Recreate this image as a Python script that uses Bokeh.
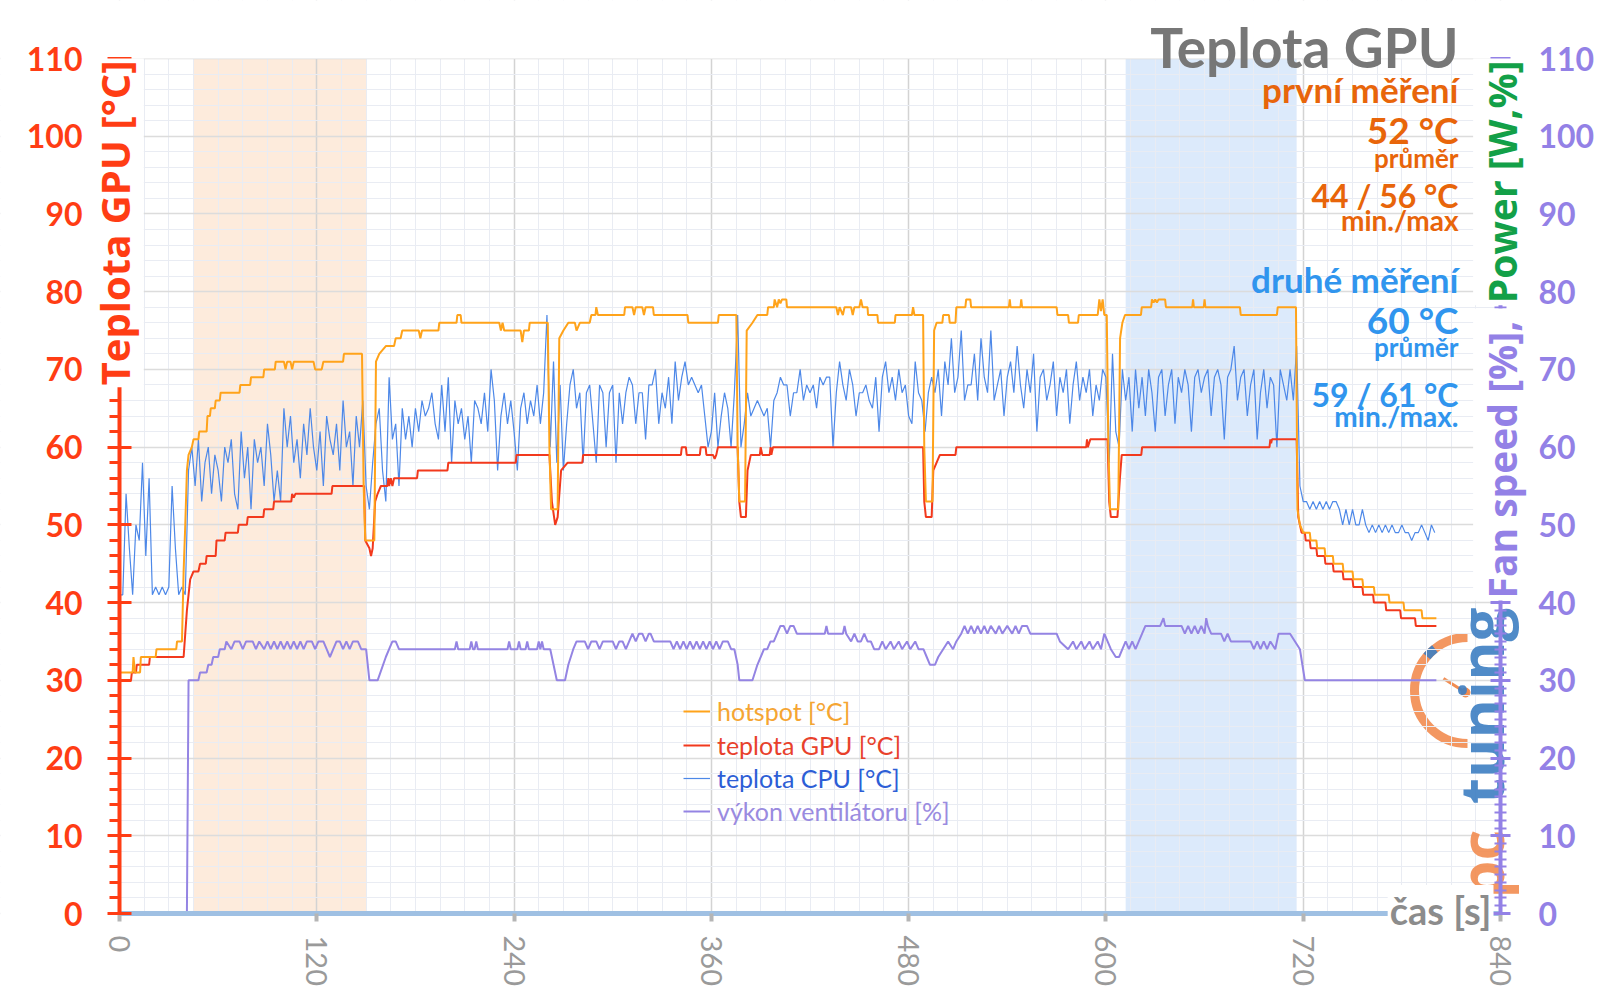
import math
from bokeh.plotting import figure
from bokeh.models import (Range1d, LinearAxis, FixedTicker, BoxAnnotation, Label,
                          Legend, LegendItem)
from bokeh.embed import file_html
from bokeh.resources import INLINE

# ---------------- data ----------------
x_ticks = [0, 120, 240, 360, 480, 600, 720, 840]
y_ticks = [0, 10, 20, 30, 40, 50, 60, 70, 80, 90, 100, 110]

first_span = (45, 150)     # "první měření" window [s]
second_span = (612, 716)   # "druhé měření" window [s]

hotspot_pts = [
    (0, 31), (8, 31), (8.5, 33), (9.5, 31), (12.5, 31), (13, 33), (22, 33), (22.5, 34), (34.5, 34),
    (35, 35), (38, 35), (39, 44), (40, 50), (41, 57), (42, 59), (44, 60), (45, 61), (48, 61), (48.5, 62),
    (53, 62), (53.5, 64), (55, 64), (55.5, 65), (58, 65), (58.5, 66), (61, 66), (61.5, 67), (73, 67),
    (73.5, 68), (79.5, 68), (80, 69), (87.5, 69), (88, 70), (94.5, 70), (95, 71), (100, 71), (101, 70),
    (102, 71), (104, 71), (105, 70), (106, 71), (118, 71), (119, 70), (123, 70), (124, 71), (136, 71),
    (136.5, 72), (147.5, 72), (148.5, 55), (149.5, 48), (155, 48), (156, 71), (158, 72), (162, 73),
    (167, 73), (168, 74), (171, 74), (172, 75), (182, 75), (183, 74), (184, 75), (194, 75), (194.5, 76),
    (205, 76), (205.5, 77), (207.5, 77), (208, 76), (231, 76), (232, 75), (233, 76), (234, 75), (244, 75),
    (245, 73.5), (246, 75), (249, 75), (249.5, 76), (260.5, 76), (261.5, 60), (262.5, 52), (266.5, 52),
    (267.5, 74), (270, 75), (273, 76), (277, 76), (278, 75), (280, 76), (286, 76), (287, 77), (289.5, 77),
    (290, 78), (291, 77), (307, 77), (307.5, 78), (312, 78), (313, 77), (314, 78), (318, 78), (319, 77),
    (320, 78), (324.5, 78), (325, 77), (345.5, 77), (346, 76), (364, 76), (364.5, 77), (375.2, 77),
    (376, 60), (377, 53), (380.5, 53), (381.5, 75), (385, 76), (388, 77), (394, 77), (394.5, 78), (398, 78),
    (398.5, 79), (400, 78), (401, 79), (402, 78.5), (403, 79), (405.6, 79), (406, 78), (436, 78), (437, 77),
    (438, 78), (440, 77), (441, 78), (445, 78), (446, 77), (447, 78), (450, 78), (451, 79), (452, 78),
    (455, 78), (455.3, 77), (461, 77), (461.4, 76), (471.6, 76), (472, 77), (482, 77), (482.7, 78),
    (483.5, 77), (488.8, 77), (489.5, 60), (490.5, 53), (494.5, 53), (495.5, 75), (497, 76), (500.5, 76),
    (501, 77), (504.5, 77), (505, 76), (508.5, 76), (509, 78), (514.5, 78), (515, 79), (517.5, 79),
    (518, 78), (541, 78), (541.5, 79), (542, 78), (548, 78), (548.5, 79), (549, 78), (570, 78), (570.5, 77),
    (577, 77), (577.5, 76), (583, 76), (583.5, 77), (595, 77), (596, 79), (597, 77.5), (598, 79), (599, 77),
    (600.5, 77), (601.5, 60), (602.5, 52), (607.5, 52), (608.6, 74), (610, 76), (611.6, 77), (621.3, 77),
    (621.8, 78), (627.5, 78), (628, 79), (629, 78.6), (630, 79), (631, 78.6), (632, 79), (636, 79),
    (636.5, 78), (652.5, 78), (653, 79), (653.5, 78), (659.5, 78), (660, 79), (660.5, 78), (681.5, 78),
    (682, 77), (704, 77), (704.5, 78), (715.6, 78), (716.5, 52), (718, 50), (720, 49), (724, 49),
    (724.5, 48), (728, 48), (728.5, 47), (733, 47), (733.5, 46), (738, 46), (738.5, 45), (744, 45),
    (744.5, 44), (750, 44), (750.5, 43), (756, 43), (756.5, 42), (763, 42), (763.5, 41), (772, 41),
    (772.5, 40), (781, 40), (781.5, 39), (792, 39), (792.5, 38), (801, 38),
]

gpu_pts = [
    (0, 30), (7, 30), (7.5, 31), (10, 31), (10.5, 32), (18, 32), (18.5, 33), (39, 33), (40, 36), (41, 39),
    (42, 41), (43, 43), (45, 44), (48, 44), (49, 45), (52.5, 45), (53, 46), (58.5, 46), (59, 48), (64, 48),
    (64.5, 49), (72, 49), (72.5, 50), (77.5, 50), (78, 51), (87.5, 51), (88, 52), (93.5, 52), (94, 53),
    (104.5, 53), (105, 54), (106, 53.5), (107, 54), (129, 54), (129.5, 55), (148.8, 55), (149.5, 48),
    (152, 47), (153, 46), (154, 47), (155.5, 53), (157, 54), (159, 55), (163, 55), (163.5, 56), (164, 55),
    (165, 56), (166, 55), (167, 56), (181, 56), (181.5, 57), (199.5, 57), (200, 58), (241, 58), (241.5, 59),
    (261.5, 59), (263, 53), (265, 50), (266.5, 51), (268.6, 57), (272.6, 58), (281.5, 58), (282, 59),
    (341.5, 59), (342, 60), (344.5, 60), (345, 59), (353, 59), (353.5, 60), (356.5, 60), (357, 59),
    (361, 59), (362, 58.5), (363, 59), (364, 60), (376, 60), (377, 53), (378, 51), (381, 51), (382, 57),
    (384, 59), (389.5, 59), (390, 60), (391, 59), (395.5, 59), (396, 60), (396.5, 59), (397.5, 60),
    (488.8, 60), (489.5, 53), (490.5, 51), (494, 51), (495, 57), (499, 59), (508.5, 59), (509, 60),
    (588, 60), (588.5, 61), (589, 60), (590.5, 61), (601, 61), (602, 53), (603, 51), (607, 51),
    (608.5, 56), (609.6, 59), (621.5, 59), (622, 60), (699.5, 60), (700, 61), (700.5, 60.5), (701, 61),
    (716, 61), (717, 51), (719, 49), (721, 49), (721.5, 48), (724, 48), (724.5, 47), (728, 47),
    (728.5, 46), (733, 46), (733.5, 45), (738, 45), (738.5, 44), (744, 44), (744.5, 43), (750, 43),
    (750.5, 42), (756, 42), (756.5, 41), (762.5, 41), (763, 40), (770, 40), (770.5, 39), (779, 39),
    (779.5, 38), (788, 38), (788.5, 37), (801, 37),
]

fan_pts = [
    (0, 0), (41, 0), (42, 30), (48, 30), (49, 31), (53, 31), (54, 32), (56, 32), (57, 33), (60, 33),
    (61, 34), (64, 34), (65, 35), (68, 34), (70, 35), (73, 35), (75, 34), (77, 35), (81, 35), (83, 34),
    (85, 35), (88, 34), (90, 35), (92, 34), (94, 35), (96, 34), (98, 35), (100, 34), (102, 35), (104, 34),
    (106, 35), (108, 34), (110, 35), (112, 34), (114, 35), (117, 35), (119, 34), (121, 35), (124, 35),
    (126, 34), (128, 33), (130, 34), (132, 35), (134, 35), (136, 34), (138, 35), (140, 34), (142, 35),
    (145, 35), (147, 34), (150, 34), (152, 30), (157, 30), (162, 33), (164, 34), (166, 35), (168, 35),
    (170, 34), (204, 34), (205, 35), (206, 34), (213, 34), (214, 35), (215, 34), (216, 34), (217, 35),
    (218, 34), (236, 34), (237, 35), (238, 34), (242, 34), (243, 35), (244, 34), (247, 34), (248, 35),
    (249, 34), (254, 34), (255, 35), (256, 34), (257, 35), (258, 34), (262, 34), (264, 32), (266, 30),
    (271, 30), (273, 32), (276, 34), (278, 35), (283, 35), (285, 34), (287, 35), (290, 35), (292, 34),
    (294, 35), (300, 35), (302, 34), (304, 35), (306, 35), (308, 34), (310, 35), (312, 36), (314, 35),
    (316, 36), (318, 36), (320, 35), (322, 36), (323, 36), (325, 35), (335, 35), (337, 34), (339, 35),
    (341, 34), (343, 35), (345, 34), (347, 35), (349, 34), (351, 35), (353, 34), (355, 35), (357, 34),
    (359, 35), (361, 34), (363, 35), (365, 34), (367, 35), (370, 35), (372, 34), (374, 34), (376, 32),
    (377, 30), (385, 30), (388, 32), (392, 34), (394, 34), (396, 35), (398, 35), (400, 36), (402, 37),
    (404, 37), (406, 36), (408, 37), (410, 37), (412, 36), (429, 36), (430, 37), (431, 36), (440, 36),
    (441, 37), (442, 36), (445, 35), (447, 36), (449, 35), (451, 35), (453, 36), (455, 35), (457, 35),
    (459, 34), (462, 34), (464, 35), (466, 34), (469, 35), (471, 34), (474, 35), (476, 34), (479, 35),
    (481, 34), (484, 35), (486, 34), (489, 34), (491, 33), (493, 32), (496, 32), (498, 33), (501, 34),
    (504, 35), (507, 34), (509, 35), (512, 36), (514, 37), (516, 36), (518, 37), (520, 36), (522, 37),
    (524, 36), (526, 37), (528, 36), (530, 37), (533, 36), (535, 37), (537, 36), (540, 37), (543, 36),
    (545, 37), (547, 36), (549, 37), (552, 37), (554, 36), (570, 36), (572, 35), (577, 34), (580, 35),
    (582, 34), (585, 35), (587, 34), (590, 35), (592, 34), (595, 35), (597, 34), (599, 36), (601, 35),
    (603, 34), (606, 33), (608, 33), (610, 34), (612, 35), (614, 34), (616, 35), (618, 34), (620, 35),
    (622, 36), (624, 37), (633, 37), (635, 38), (636, 37), (646, 37), (648, 36), (650, 37), (652, 36),
    (654, 37), (656, 36), (658, 37), (660, 36), (661, 38), (662, 37), (664, 36), (670, 36), (672, 35),
    (674, 36), (676, 35), (688, 35), (690, 34), (692, 35), (694, 34), (696, 35), (698, 34), (700, 35),
    (703, 34), (705, 36), (712, 36), (715, 35), (718, 34), (721, 30), (801, 30),
]

# CPU temperature sampled every 2 s from 0 s to 800 s
cpu_values = [
    41, 41, 54, 47, 41, 50, 48, 58, 46, 56, 41, 42, 41, 42, 41, 42, 55, 47, 41, 42, 41,
    57, 60, 55, 61, 53, 58, 60, 54, 59, 57, 53, 60, 58, 61, 54, 52, 62, 56, 60, 52,
    61, 58, 60, 55, 63, 59, 53, 57, 53, 65, 60, 64, 58, 61, 56, 63, 59, 65, 60, 57,
    62, 55, 64, 61, 59, 63, 57, 66, 60, 62, 55, 64, 60,
    66, 55, 52, 58, 63, 65, 57, 53, 69, 61, 63, 55, 65, 61, 64, 60, 65, 62, 66, 64,
    65, 67, 63, 61, 68, 62, 69, 58, 66, 63, 65, 61, 64, 58, 66, 65, 63, 67, 62, 70,
    66, 57, 64, 67, 63, 66, 62, 57, 65, 67, 63, 66, 64, 68, 63, 67, 77,
    60, 71, 58, 68, 57, 63, 68, 70, 65, 67, 58, 67, 68, 63, 58, 68, 67, 60, 67, 68,
    58, 67, 63, 67, 69, 68, 63, 67, 67, 61, 68, 68, 70, 63, 67, 65, 69, 63, 71, 66,
    69, 71, 68, 69, 68, 67, 68, 64, 60, 62, 67, 60, 64, 67, 65, 60, 67,
    77, 60, 63, 67, 64, 65, 66, 65, 64, 65, 60, 66, 67, 69, 68, 68, 64, 67, 67, 70,
    66, 68, 67, 68, 65, 69, 68, 69, 69, 60, 67, 71, 68, 66, 70, 68, 64, 67, 67, 68,
    66, 65, 69, 62, 69, 71, 67, 69, 66, 70, 67, 68, 64, 63, 71, 67, 66, 62, 67, 69,
    67, 70, 64, 71, 68, 74, 67, 69, 75, 66, 68,
    68, 72, 66, 74, 69, 67, 75, 66, 68, 70, 64, 69, 71, 67, 73, 68, 65, 70, 67, 72,
    62, 69, 70, 66, 68, 71, 64, 69, 67, 70, 63, 68, 71, 66, 69, 67, 70, 64, 68, 66, 70, 69,
    58, 72, 62, 60, 70, 66, 69, 62, 70, 65, 69, 64, 70, 67, 62, 69, 70, 64, 68, 70,
    63, 69, 67, 70, 68, 62, 69, 70, 67, 69, 70, 64, 69, 70, 68, 61, 69, 70, 73, 66,
    69, 70, 64, 68, 70, 61, 67, 70, 65, 69, 68, 60, 70, 68, 66, 70, 66, 73,
    55, 53, 53, 52, 53, 52, 53, 52, 53, 52, 53, 53, 52, 50, 52, 50, 52, 50, 50, 52,
    50, 49, 50, 49, 50, 49, 50, 49, 50, 49, 49, 50, 49, 49, 48, 49, 49, 50, 49, 48, 50, 49,
]
cpu_time = list(range(0, 2 * len(cpu_values), 2))

first_stats = ["první měření", "52 °C", "průměr", "44 / 56 °C", "min./max"]
second_stats = ["druhé měření", "60 °C", "průměr", "59 / 61 °C", "min./max."]

# ---------------- colours ----------------
C_HOT = "#FFA31A"
C_GPU = "#F2391D"
C_CPU = "#4D88E8"
C_FAN = "#9484E3"
C_LEFT = "#FF3D14"
C_RIGHT = "#9381E6"
C_GREEN = "#13A048"
C_ORANGE_TXT = "#E8650A"
C_BLUE_TXT = "#3095EE"

# ---------------- geometry ----------------
W, H = 1600, 1008
PL, PR, PT, PB = 119, 1500, 58, 913        # pixel edges of the 0..840 / 0..110 data area
PXS = (PR - PL) / 840.0
PYS = (PB - PT) / 110.0
BASE = 0.33                                  # baseline correction (fraction of font size)


def X(px):   # page px -> seconds
    return (px - PL) / PXS


def Y(py):   # page px -> value
    return (PB - py) / PYS


def htext(px, py, text, size, color, font="Lato", align="right", **kw):
    """horizontal label with its baseline at page pixel row py"""
    return Label(x=X(px), y=Y(py - BASE * size), text=text, text_align=align,
                 text_baseline="alphabetic", text_font=font, text_font_style="bold",
                 text_font_size=f"{size}px", text_color=color, **kw)


def vtext(px, py, text, size, color, align, font="Open Sans", **kw):
    """text reading bottom-to-top with its baseline at page pixel column px"""
    return Label(x=X(px - BASE * size), y=Y(py), text=text, angle=math.pi / 2,
                 text_align=align, text_baseline="alphabetic", text_font=font,
                 text_font_style="bold", text_font_size=f"{size}px", text_color=color, **kw)


x_rng = Range1d(X(0), X(W))
y_rng = Range1d(Y(H), Y(0))

p = figure(frame_width=W, frame_height=H, min_border=0, min_border_left=0,
           min_border_right=0, min_border_top=0, min_border_bottom=0,
           x_range=x_rng, y_range=y_rng, output_backend="svg", toolbar_location=None)
p.title.visible = False
p.outline_line_color = None
p.background_fill_color = "white"
p.border_fill_color = "white"

# grids
p.xaxis.ticker = FixedTicker(ticks=x_ticks, minor_ticks=list(range(0, 841, 15)))
p.yaxis.ticker = FixedTicker(ticks=y_ticks, minor_ticks=list(range(0, 111, 2)))
p.xgrid.grid_line_color = "#d3d3d3"
p.xgrid.grid_line_width = 1.5
p.xgrid.minor_grid_line_color = "#e9ecf3"
p.ygrid.grid_line_color = "#dcdcdc"
p.ygrid.grid_line_width = 1.5
p.ygrid.minor_grid_line_color = "#e9ecf3"

# highlighted windows (under the grid)
p.add_layout(BoxAnnotation(left=first_span[0], right=first_span[1], bottom=0, top=110,
                           fill_color="#FDEBDC", fill_alpha=1.0, line_color=None, level="image"))
p.add_layout(BoxAnnotation(left=second_span[0], right=second_span[1], bottom=0, top=110,
                           fill_color="#DCEAFB", fill_alpha=1.0, line_color=None, level="image"))
# white masks: keep the grid inside the 0..840 x 0..110 area
for kw in (dict(right=0), dict(left=840), dict(bottom=110), dict(top=0)):
    p.add_layout(BoxAnnotation(fill_color="white", fill_alpha=1.0, line_color=None,
                               level="underlay", **kw))

# bottom axis
xa = p.xaxis[0]
xa.fixed_location = 0
xa.bounds = (0, 840)
xa.axis_line_color = "#9FC0E3"
xa.axis_line_width = 5
xa.major_tick_line_color = "#b5b5b5"
xa.major_tick_line_width = 4
xa.major_tick_in = 0
xa.major_tick_out = 8
xa.minor_tick_line_color = None
xa.major_label_orientation = "vertical"
xa.major_label_text_font = "Lato"
xa.major_label_text_font_size = "29px"
xa.major_label_text_color = "#9a9a9a"
xa.major_label_standoff = 14

# left axis
ya = p.yaxis[0]
ya.fixed_location = 0
ya.bounds = (0, 110)
ya.axis_line_color = C_LEFT
ya.axis_line_width = 4
ya.major_tick_line_color = C_LEFT
ya.major_tick_line_width = 3
ya.major_tick_in = 12
ya.major_tick_out = 12
ya.minor_tick_line_color = C_LEFT
ya.minor_tick_line_width = 3
ya.minor_tick_in = 0
ya.minor_tick_out = 10
ya.major_label_text_font = "Lato"
ya.major_label_text_font_style = "bold"
ya.major_label_text_font_size = "32px"
ya.major_label_text_color = C_LEFT
ya.major_label_standoff = 25

# right axis (fan speed / power, same 0..110 scale)
p.extra_y_ranges = {"fan": Range1d(Y(H), Y(0))}
ra = LinearAxis(y_range_name="fan", fixed_location=840, bounds=(0, 110),
                ticker=FixedTicker(ticks=y_ticks, minor_ticks=list(range(0, 111, 1))))
ra.axis_line_color = C_RIGHT
ra.axis_line_width = 4
ra.major_tick_line_color = C_RIGHT
ra.major_tick_line_width = 3
ra.major_tick_in = 10
ra.major_tick_out = 10
ra.minor_tick_line_color = C_RIGHT
ra.minor_tick_line_width = 2
ra.minor_tick_in = 6
ra.minor_tick_out = 6
ra.major_label_text_font = "Lato"
ra.major_label_text_font_style = "bold"
ra.major_label_text_font_size = "32px"
ra.major_label_text_color = C_RIGHT
ra.major_label_standoff = 28
p.add_layout(ra, "right")

# pctuning watermark (under the data lines and axes)
p.add_layout(vtext(1500, 898, "pc", 60, "#F28C50", "left", text_alpha=0.9, level="underlay"))
p.add_layout(vtext(1500, 607, "tuning", 60, "#3D7EC2", "right", text_alpha=0.9,
                   level="underlay"))
p.arc(x=[X(1467)], y=[Y(690)], radius=53, radius_units="screen",
      start_angle=math.radians(90), end_angle=math.radians(270), direction="anticlock",
      line_color="#F28C50", line_width=9, line_alpha=0.9, level="underlay")
p.arc(x=[X(1467)], y=[Y(690)], radius=53, radius_units="screen",
      start_angle=math.radians(128), end_angle=math.radians(140), direction="anticlock",
      line_color="#3D7EC2", line_width=9, line_alpha=0.9, level="underlay")
p.segment(x0=[X(1443)], y0=[Y(678)], x1=[X(1465)], y1=[Y(692)], line_color="#F28C50",
          line_width=3, level="underlay")
p.scatter(x=[X(1465)], y=[Y(692)], size=9, color="#F28C50", level="underlay")

# series
r_fan = p.line([t for t, v in fan_pts], [v for t, v in fan_pts], y_range_name="fan",
               line_color=C_FAN, line_width=2)
r_cpu = p.line(cpu_time, cpu_values, line_color=C_CPU, line_width=1.2)
r_gpu = p.line([t for t, v in gpu_pts], [v for t, v in gpu_pts], line_color=C_GPU, line_width=2)
r_hot = p.line([t for t, v in hotspot_pts], [v for t, v in hotspot_pts], line_color=C_HOT,
               line_width=2)

# legend: one entry per coloured label (location = px from the canvas bottom-left)
legend_rows = [("hotspot [°C]", r_hot, "#F5A532", 714),
               ("teplota GPU [°C]", r_gpu, "#E8412B", 748),
               ("teplota CPU [°C]", r_cpu, "#2D5ED6", 781),
               ("výkon ventilátoru [%]", r_fan, "#9A8BE0", 814)]
for text, rend, col, yc in legend_rows:
    lg = Legend(items=[LegendItem(label=text, renderers=[rend])], location=(683, H - yc - 12),
                background_fill_alpha=0, border_line_color=None, padding=0, margin=0,
                spacing=0, glyph_width=27, glyph_height=24, label_height=24,
                label_standoff=7, label_text_font="Lato", label_text_font_size="25px",
                label_text_color=col)
    p.add_layout(lg)

# axis titles drawn as labels (they sit on top of the axis lines)
p.add_layout(vtext(127, 58, "Teplota GPU [°C]", 40, C_LEFT, "right",
                   background_fill_color="white", padding=2))
p.add_layout(vtext(1514, 58, "Power [W,%]", 39, C_GREEN, "right",
                   background_fill_color="white", padding=2))
p.add_layout(vtext(1514, 600, "Fan speed [%], ", 39, C_RIGHT, "left",
                   background_fill_color="white", padding=2))
p.add_layout(htext(1493, 922, "čas [s]", 38, "#8c8c8c",
                   background_fill_color="white", padding=2))

# title and statistics block
p.add_layout(htext(1458, 65, "Teplota GPU", 55, "#777777"))
block = [(first_stats, C_ORANGE_TXT, [100, 141, 166, 206, 229]),
         (second_stats, C_BLUE_TXT, [290, 331, 355, 405, 425])]
sizes = [35, 37, 26, 32, 28]
for texts, col, ys in block:
    for txt, yy, sz in zip(texts, ys, sizes):
        p.add_layout(htext(1458, yy, txt, sz, col))

open("out.html", "w").write(file_html(p, INLINE))
